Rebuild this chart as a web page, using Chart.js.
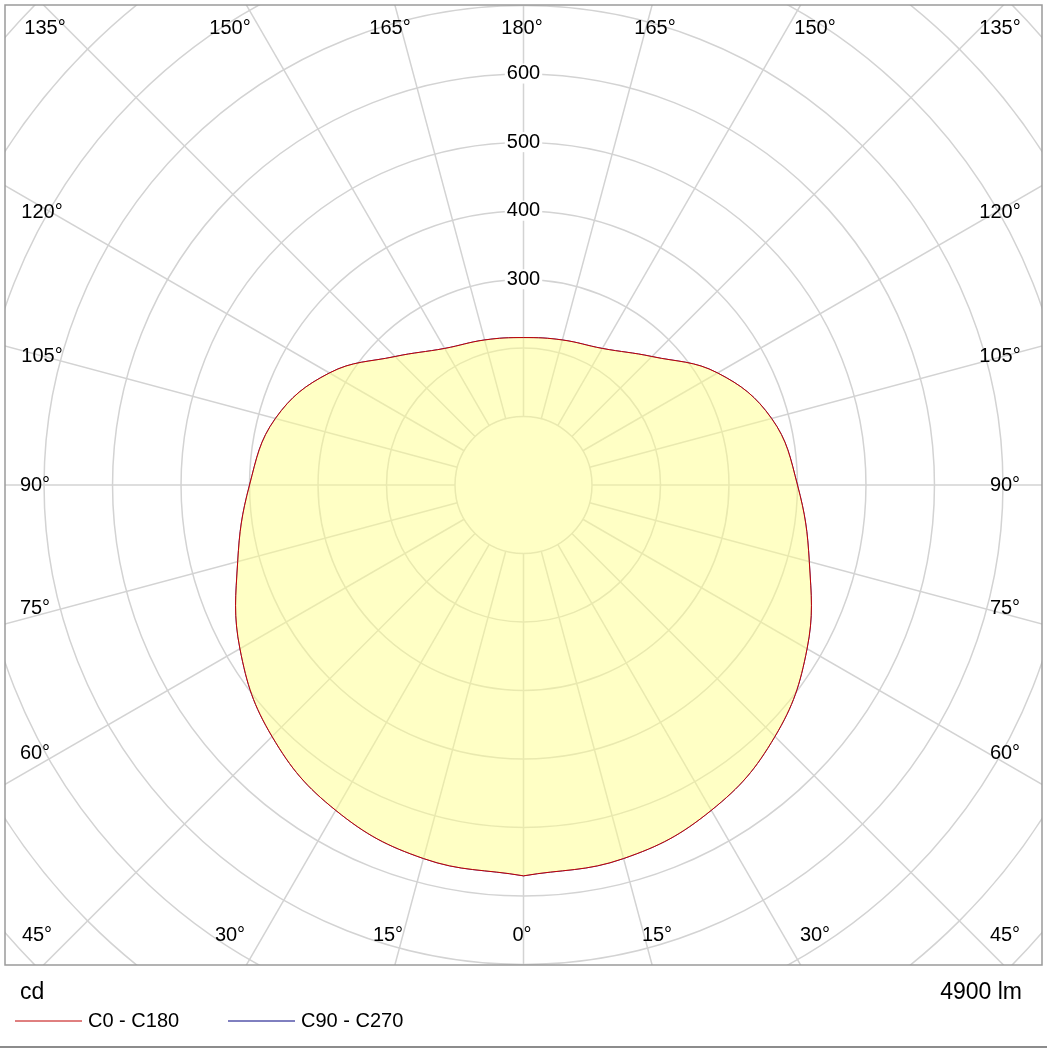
<!DOCTYPE html>
<html>
<head>
<meta charset="utf-8">
<script src="https://cdn.jsdelivr.net/npm/chart.js@4"></script>
<style>
  html, body { margin: 0; padding: 0; background: #fff; }
  #wrap { position: relative; width: 1047px; height: 1049px; }
</style>
</head>
<body>
<div id="wrap"><canvas id="polar" width="1047" height="1049"></canvas></div>
<script>
// gamma angles (0 = straight down) and luminous intensity in cd
var gammaAngles = [0, 15, 30, 45, 60, 75, 90, 105, 120, 135, 150, 165, 180];
var c0c180 = [570, 564, 548, 519, 478, 432, 400, 375, 327, 265, 230, 219, 215];
var c90c270 = [570, 564, 548, 519, 478, 432, 400, 375, 327, 265, 230, 219, 215];
var ringValues = [100, 200, 300, 400, 500, 600, 700, 800, 900, 1000, 1100];
var ringLabels = [300, 400, 500, 600];
var FONT = '"Liberation Sans", Arial, sans-serif';

// polar curve -> x/y in cd units (right half then mirrored left half)
function toPoints(vals) {
    var pts = [];
    for (var i = 0; i < gammaAngles.length; i++) {
        var a = gammaAngles[i] * Math.PI / 180;
        pts.push({x: vals[i] * Math.sin(a), y: -vals[i] * Math.cos(a)});
    }
    for (var j = gammaAngles.length - 2; j >= 0; j--) {
        var b = gammaAngles[j] * Math.PI / 180;
        pts.push({x: -vals[j] * Math.sin(b), y: -vals[j] * Math.cos(b)});
    }
    return pts;
}

// where the angle labels sit inside the frame
var labelSpots = [
    ['135°', 45, 28], ['150°', 230, 28], ['165°', 390, 28], ['180°', 522, 28],
    ['165°', 655, 28], ['150°', 815, 28], ['135°', 1000, 28],
    ['120°', 42, 212], ['105°', 42, 356], ['90°', 35, 485], ['75°', 35, 608],
    ['60°', 35, 753], ['45°', 37, 935],
    ['120°', 1000, 212], ['105°', 1000, 356], ['90°', 1005, 485], ['75°', 1005, 608],
    ['60°', 1005, 753], ['45°', 1005, 935],
    ['30°', 230, 935], ['15°', 388, 935], ['0°', 522, 935], ['15°', 657, 935], ['30°', 815, 935]
];

var gridPlugin = {
    id: 'polarGrid',
    beforeDatasetsDraw: function(chart) {
        var ctx = chart.ctx, ca = chart.chartArea;
        var sx = chart.scales.x, sy = chart.scales.y;
        var cx = sx.getPixelForValue(0), cy = sy.getPixelForValue(0);
        var k = sx.getPixelForValue(100) - cx; // px per 100 cd
        ctx.save();
        ctx.beginPath();
        ctx.rect(ca.left, ca.top, ca.right - ca.left, ca.bottom - ca.top);
        ctx.clip();
        ctx.strokeStyle = '#d3d3d3';
        ctx.lineWidth = 1.5;
        ringValues.forEach(function(v) {
            ctx.beginPath();
            ctx.arc(cx, cy, v / 100 * k, 0, Math.PI * 2);
            ctx.stroke();
        });
        for (var d = 0; d < 360; d += 15) {
            var a = d * Math.PI / 180;
            ctx.beginPath();
            ctx.moveTo(cx + Math.sin(a) * k, cy + Math.cos(a) * k);
            ctx.lineTo(cx + Math.sin(a) * 2000, cy + Math.cos(a) * 2000);
            ctx.stroke();
        }
        ctx.restore();
    },
    afterDatasetsDraw: function(chart) {
        var ctx = chart.ctx, ca = chart.chartArea;
        var sx = chart.scales.x, sy = chart.scales.y;
        var cx = sx.getPixelForValue(0);
        ctx.save();
        ctx.font = '20px ' + FONT;
        ctx.textAlign = 'center';
        ctx.textBaseline = 'middle';
        // value labels along the upward axis
        ringLabels.forEach(function(v) {
            var y = sy.getPixelForValue(v);
            var w = ctx.measureText(String(v)).width;
            ctx.fillStyle = '#fff';
            ctx.fillRect(cx - w / 2 - 2, y - 10, w + 4, 20);
            ctx.fillStyle = '#000';
            ctx.fillText(String(v), cx, y);
        });
        labelSpots.forEach(function(l) {
            ctx.fillText(l[0], l[1], l[2]);
        });
        // frame
        ctx.strokeStyle = '#9a9a9a';
        ctx.lineWidth = 1.5;
        ctx.strokeRect(ca.left, ca.top, ca.right - ca.left, ca.bottom - ca.top);
        ctx.beginPath();
        ctx.moveTo(0, 1047); ctx.lineTo(1047, 1047);
        ctx.strokeStyle = '#666';
        ctx.stroke();
        // footer
        ctx.font = '23px ' + FONT;
        ctx.textAlign = 'left';
        ctx.fillText('cd', 20, 993);
        ctx.textAlign = 'right';
        ctx.fillText('4900 lm', 1022, 993);
        ctx.font = '20px ' + FONT;
        ctx.textAlign = 'left';
        ctx.lineWidth = 1;
        ctx.strokeStyle = '#c00000';
        ctx.beginPath(); ctx.moveTo(15, 1021); ctx.lineTo(82, 1021); ctx.stroke();
        ctx.fillText('C0 - C180', 88, 1021);
        ctx.strokeStyle = '#000080';
        ctx.beginPath(); ctx.moveTo(228, 1021); ctx.lineTo(295, 1021); ctx.stroke();
        ctx.fillText('C90 - C270', 301, 1021);
        ctx.restore();
    }
};

var ctx = document.getElementById('polar').getContext('2d');
new Chart(ctx, {
    type: 'scatter',
    data: {
        datasets: [{
            label: 'C0 - C180',
            data: toPoints(c0c180),
            showLine: true,
            tension: 0.4,
            fill: 'shape',
            backgroundColor: 'rgba(255,255,140,0.5)',
            borderColor: '#c00000',
            borderWidth: 1,
            pointRadius: 0
        }, {
            label: 'C90 - C270',
            data: toPoints(c90c270),
            showLine: true,
            tension: 0.4,
            fill: false,
            borderColor: 'rgba(0,0,160,0.75)',
            borderWidth: 1,
            pointRadius: 0
        }]
    },
    options: {
        responsive: false,
        animation: false,
        devicePixelRatio: 1,
        layout: {padding: {left: 5, right: 5, top: 5, bottom: 84}},
        plugins: {legend: {display: false}, tooltip: {enabled: false}},
        scales: {
            x: {min: -757, max: 757, display: false},
            y: {min: -700, max: 700, display: false}
        }
    },
    plugins: [gridPlugin]
});
</script>
</body>
</html>
